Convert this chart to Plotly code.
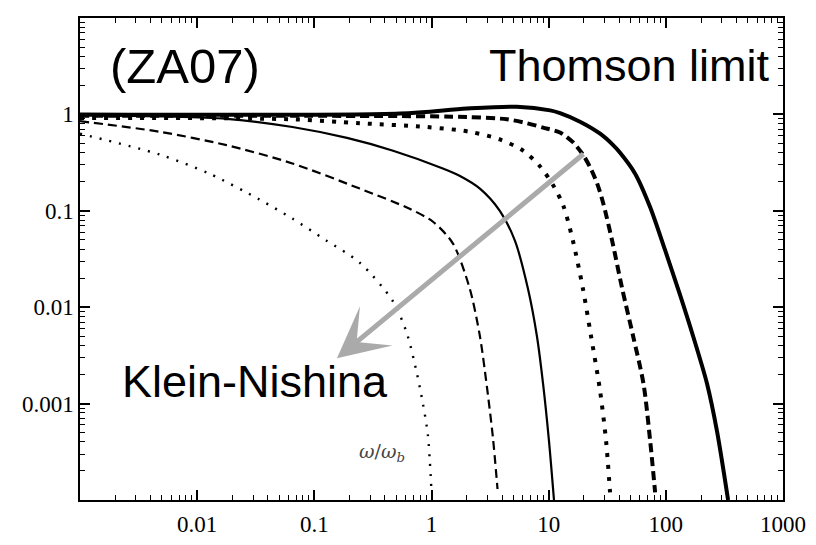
import math
import plotly.graph_objects as go

# ---- data (omega/omega_b vs suppression factor) ----
x_thin_dot = [0.001, 0.0048, 0.0127, 0.034, 0.065, 0.127, 0.244, 0.467, 0.615, 0.748, 0.843, 0.93, 1.0]
y_thin_dot = [0.63, 0.383, 0.243, 0.131, 0.083, 0.049, 0.029, 0.0116, 0.0054, 0.0021, 0.00101, 0.00048, 0.00012]

x_thin_dash = [0.001, 0.0048, 0.0178, 0.065, 0.244, 0.65, 1.03, 1.52, 2.12, 2.59, 2.97, 3.34, 3.66]
y_thin_dash = [0.85, 0.66, 0.48, 0.31, 0.17, 0.105, 0.077, 0.046, 0.0156, 0.005, 0.0015, 0.00045, 0.00013]

x_thin_solid = [0.001, 0.0178, 0.065, 0.19, 0.47, 1.25, 1.75, 2.59, 3.83, 5.15, 6.65, 7.94, 8.96, 10.06, 11.1]
y_thin_solid = [0.98, 0.9, 0.74, 0.57, 0.42, 0.275, 0.23, 0.17, 0.1, 0.049, 0.0156, 0.005, 0.0016, 0.00041, 0.0001]

x_thick_dot = [0.001, 0.065, 0.244, 0.91, 2.12, 3.84, 6.05, 8.42, 10.9, 13.3, 16.1, 19.6, 23.0, 27.4, 30.9, 33.4]
y_thick_dot = [0.92, 0.89, 0.81, 0.74, 0.66, 0.55, 0.42, 0.29, 0.185, 0.114, 0.049, 0.0156, 0.005, 0.00138, 0.00041, 0.00012]

x_thick_dash = [0.001, 0.54, 2.0, 4.4, 6.53, 8.95, 12.5, 16.1, 19.6, 22.5, 25.9, 29.1, 34.8, 42.4, 52.6, 64.5, 73.5, 81.0]
y_thick_dash = [0.97, 0.96, 0.94, 0.89, 0.81, 0.73, 0.648, 0.515, 0.383, 0.285, 0.193, 0.122, 0.049, 0.0156, 0.005, 0.0016, 0.00041, 0.00012]

x_thick_solid = [0.001, 0.54, 2.0, 5.35, 10.3, 12.5, 18.5, 27.5, 35.5, 40.7, 54.7, 73.5, 98.6, 132, 171, 225, 274, 340]
y_thick_solid = [1.0, 1.02, 1.15, 1.2, 1.1, 1.03, 0.84, 0.63, 0.48, 0.40, 0.243, 0.109, 0.039, 0.0135, 0.005, 0.0016, 0.00051, 0.0001]

x_ticks = [0.01, 0.1, 1, 10, 100, 1000]
x_ticktext = ["0.01", "0.1", "1", "10", "100", "1000"]
y_ticks = [0.001, 0.01, 0.1, 1, 10]
y_ticktext = ["0.001", "0.01", "0.1", "1", "10"]
x_minor = [k * 10 ** e for e in range(-3, 3) for k in range(2, 10)]
y_minor = [k * 10 ** e for e in range(-4, 1) for k in range(2, 10)]

arrow_from = (20.4, 0.40)
arrow_to = (0.156, 0.00295)

series = [
    (x_thin_dot, y_thin_dot, 2.4, "2px,8px"),
    (x_thin_dash, y_thin_dash, 2.2, "9px,5px"),
    (x_thin_solid, y_thin_solid, 2.2, "solid"),
    (x_thick_dot, y_thick_dot, 4.0, "4px,8px"),
    (x_thick_dash, y_thick_dash, 4.0, "9px,5px"),
    (x_thick_solid, y_thick_solid, 4.0, "solid"),
]

fig = go.Figure()
for xs, ys, w, d in series:
    fig.add_trace(go.Scatter(x=xs, y=ys, mode="lines",
                             line=dict(color="black", width=w, dash=d, shape="spline", smoothing=0.8),
                             showlegend=False, hoverinfo="skip"))

tickfont = dict(family="Liberation Serif", size=23, color="black")
common = dict(showgrid=False, zeroline=False, tickcolor="black", ticks="inside", mirror="ticks",
              showline=True, linecolor="black", linewidth=1.5, ticklen=10, tickwidth=1.5, tickfont=tickfont)

fig.update_layout(
    xaxis=dict(type="log", range=[-3, 3], tickvals=x_ticks, ticktext=x_ticktext, ticklabelstandoff=3,
               minor=dict(tickmode="array", tickvals=x_minor, ticks="inside", ticklen=5, tickwidth=1,
                          tickcolor="black", showgrid=False),
               **common),
    yaxis=dict(type="log", range=[-4, 1], tickvals=y_ticks, ticktext=y_ticktext,
               minor=dict(tickmode="array", tickvals=y_minor, ticks="inside", ticklen=5, tickwidth=1,
                          tickcolor="black", showgrid=False),
               **common),
)

# page body has an 8px margin: plot area lands at x 80..783, y 16..520
W, H, L, T, B, R = 808, 537, 72, 8, 25, 33
pw, ph = W - L - R, H - T - B


def px(xp):
    return (xp - 8 - L) / pw


def py(yp):
    return (H - B - (yp - 8)) / ph


sans = "Liberation Sans"
fig.add_annotation(xref="paper", yref="paper", x=px(185), y=py(66),
                   text="(ZA07)", showarrow=False, xanchor="center", yanchor="middle",
                   font=dict(family=sans, size=49, color="black"))
fig.add_annotation(xref="paper", yref="paper", x=px(772), y=py(66),
                   text="Thomson limit", showarrow=False, xanchor="right", yanchor="middle",
                   font=dict(family=sans, size=45, color="black"))
fig.add_annotation(xref="paper", yref="paper", x=px(255), y=py(396),
                   text="Klein-Nishina", showarrow=False, xanchor="center", yanchor="middle",
                   font=dict(family=sans, size=45, color="black"))
fig.add_annotation(xref="paper", yref="paper", x=px(382), y=py(470),
                   text="<i>ω</i>/<i>ω</i><sub><i>b</i></sub>", showarrow=False, xanchor="center", yanchor="middle",
                   font=dict(family="DejaVu Serif", size=19, color="#444444"))

fig.add_annotation(x=math.log10(arrow_to[0]), y=math.log10(arrow_to[1]),
                   ax=math.log10(arrow_from[0]), ay=math.log10(arrow_from[1]),
                   xref="x", yref="y", axref="x", ayref="y", text="",
                   showarrow=True, arrowhead=3, arrowsize=1.7, arrowwidth=5, arrowcolor="#aaaaaa")

fig.update_layout(width=W, height=H, margin=dict(l=L, r=R, t=T, b=B),
                  plot_bgcolor="white", paper_bgcolor="white", showlegend=False)

fig.write_html("out.html")
